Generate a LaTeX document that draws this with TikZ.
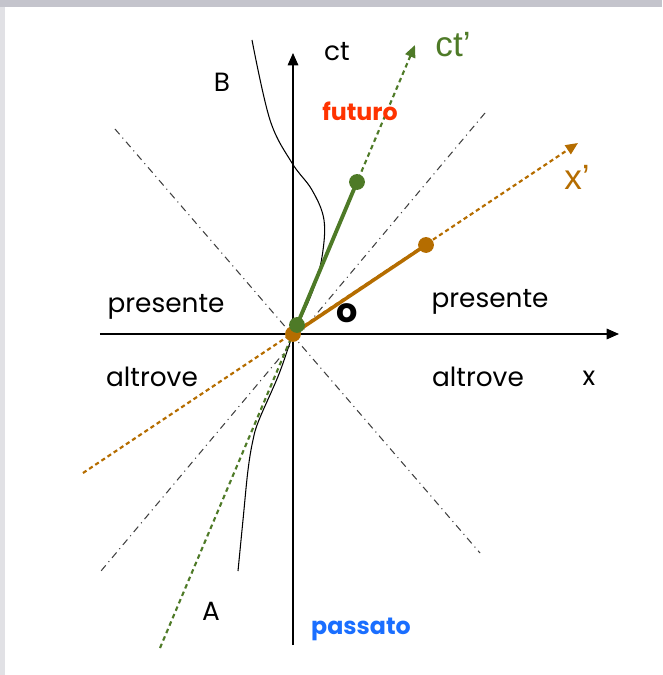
\documentclass[tikz,border=0pt]{standalone}
\usepackage{fontspec}
\setmainfont{Poppins}
\newfontfamily\narrowfont{Liberation Sans}
\usetikzlibrary{arrows.meta, calc}

\definecolor{primegreen}{HTML}{4E7A27}
\definecolor{primeorange}{HTML}{B56D00}
\definecolor{futred}{HTML}{FF3300}
\definecolor{pastblue}{HTML}{1A6EFF}
\definecolor{bandgray}{HTML}{C4C4CC}

\begin{document}
\begin{tikzpicture}[
    x=0.02cm, y=0.02cm,
    >={Triangle[length=7pt, width=6pt]},
    axis/.style={draw, line width=0.8pt, ->},
    cone/.style={draw, black!75, line width=0.6pt,
                 dash pattern=on 4pt off 2.5pt on 0.6pt off 2.5pt},
    greenaxis/.style={draw, primegreen, line width=1.2pt,
                      dash pattern=on 2.6pt off 2pt, ->},
    orangeaxis/.style={draw, primeorange, line width=1.2pt,
                       dash pattern=on 2.4pt off 1.8pt, ->},
    greenseg/.style={draw, primegreen, line width=2.2pt},
    orangeseg/.style={draw, primeorange, line width=2pt},
    event/.style={circle, inner sep=0pt, minimum size=9pt},
    lbl/.style={font=\fontsize{15}{17}\selectfont},
    region/.style={font=\fontsize{13.5}{15}\selectfont\bfseries},
    primelbl/.style={font=\narrowfont\fontsize{20}{22}\selectfont},
]
  \useasboundingbox (-293,-341) rectangle (369,334);
  \fill[bandgray] (-293,327) rectangle (369,334);
  \fill[bandgray!50] (-293,-341) rectangle (-288,327);

  % axes and light cone
  \coordinate (O) at (0,0);
  \coordinate (tb) at (0,-311);
  \coordinate (tt) at (0,281);
  \coordinate (xl) at (-193,0);
  \coordinate (xr) at (326,0);
  \coordinate (c1a) at (-178,205);
  \coordinate (c1b) at (187,-219);
  \coordinate (c2a) at (192,221);
  \coordinate (c2b) at (-192,-237);
  \draw[cone] (c1a) -- (c1b);
  \draw[cone] (c2a) -- (c2b);
  \draw[axis] (tb) -- (tt);
  \draw[axis] (xl) -- (xr);

  % world line from A to B
  \draw[line width=0.6pt] plot[smooth, tension=0.6] coordinates
    {(-55,-237) (-50,-186) (-45,-136) (-40,-106) (-34,-86) (-14,-40)
     (0,0) (7,14) (20,44) (29,77) (31,114) (19,144) (-1,171) (-23,214) (-41,294)};

  % moving frame
  \coordinate (gb) at (-133,-314);
  \coordinate (gt) at (122,289);
  \coordinate (ob) at (-210,-139);
  \coordinate (ot) at (285,191);
  \draw[greenaxis] (gb) -- (gt);
  \draw[orangeaxis] (ob) -- (ot);
  \node[event, fill=primeorange] (o0) at (0,0) {};
  \node[event, fill=primeorange] (o1) at (133,89) {};
  \draw[orangeseg] (o0.center) -- (o1.center);
  \node[event, fill=primegreen] (g0) at (4,9) {};
  \node[event, fill=primegreen] (g1) at (64,152) {};
  \draw[greenseg] (g0.center) -- (g1.center);

  % labels
  \node[lbl] (ctlbl) at (44,282) {ct};
  \node[lbl] (xlbl) at (296,-44) {x};
  \node[lbl] (blbl) at (-71,252) {B};
  \node[lbl] (albl) at (-82,-277) {A};
  \node[lbl, font=\fontsize{19}{21}\selectfont\bfseries] (olbl) at (54,21) {o};
  \node[lbl] (presL) at (-127,27) {presente};
  \node[lbl] (presR) at (197,32) {presente};
  \node[lbl] (altL) at (-141,-43) {altrove};
  \node[lbl] (altR) at (185,-43) {altrove};
  \node[region, futred] (fut) at (67,223) {futuro};
  \node[region, pastblue] (pas) at (68,-295) {passato};
  \node[primelbl, primegreen] (ctp) at (160,289) {ct’};
  \node[primelbl, primeorange] (xp) at (284,157) {x’};
\end{tikzpicture}
\end{document}
